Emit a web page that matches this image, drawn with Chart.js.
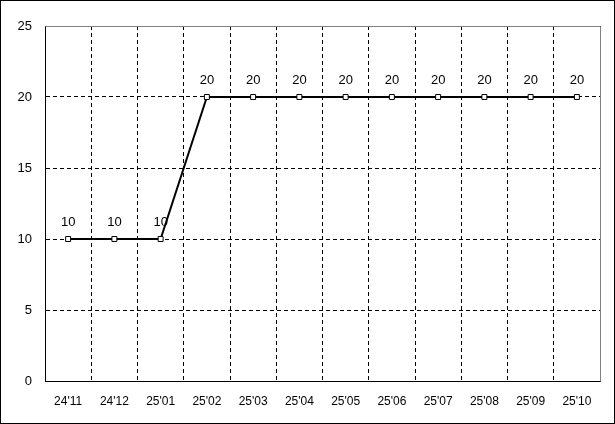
<!DOCTYPE html>
<html>
<head>
<meta charset="utf-8">
<script src="https://cdn.jsdelivr.net/npm/chart.js@4/dist/chart.umd.min.js"></script>
<style>
    body { margin: 0; background: #fff; }
    canvas { display: block; }
</style>
</head>
<body>
<canvas id="lineChart" width="615" height="424"></canvas>
<script>
const months = ["24'11", "24'12", "25'01", "25'02", "25'03", "25'04", "25'05", "25'06", "25'07", "25'08", "25'09", "25'10"];
const counts = [10, 10, 10, 20, 20, 20, 20, 20, 20, 20, 20, 20];
const yTicks = [0, 5, 10, 15, 20, 25];

const fontFamily = "'Liberation Sans', Arial, sans-serif";

// white background, outer frame, gray top/right border of plot
const framePlugin = {
    id: 'frame',
    beforeDraw(chart) {
        const ctx = chart.ctx;
        ctx.save();
        ctx.fillStyle = '#ffffff';
        ctx.fillRect(0, 0, chart.width, chart.height);
        ctx.restore();
    },
    afterDatasetsDraw(chart) {
        const ctx = chart.ctx;
        const area = chart.chartArea;
        ctx.save();
        ctx.strokeStyle = '#808080';
        ctx.lineWidth = 1;
        ctx.beginPath();
        ctx.moveTo(Math.round(area.left) + 0.5, Math.round(area.top) + 0.5);
        ctx.lineTo(Math.round(area.right) + 0.5, Math.round(area.top) + 0.5);
        ctx.lineTo(Math.round(area.right) + 0.5, Math.round(area.bottom) + 0.5);
        ctx.stroke();
        ctx.strokeStyle = '#000000';
        ctx.strokeRect(0.5, 0.5, chart.width - 1, chart.height - 1);

        // value labels above the points
        const meta = chart.getDatasetMeta(0);
        ctx.fillStyle = '#000';
        ctx.font = '13px ' + fontFamily;
        ctx.textAlign = 'center';
        ctx.textBaseline = 'middle';
        meta.data.forEach((pt, i) => {
            ctx.fillText(String(counts[i]), pt.x, pt.y - 17);
        });
        ctx.restore();
    }
};

new Chart(document.getElementById('lineChart'), {
    type: 'line',
    data: {
        labels: months,
        datasets: [{
            data: counts,
            borderColor: '#000000',
            borderWidth: 2,
            tension: 0,
            pointStyle: 'rect',
            pointRadius: 3.5,
            pointBorderWidth: 1,
            pointBorderColor: '#000000',
            pointBackgroundColor: '#ffffff',
        }]
    },
    options: {
        responsive: false,
        animation: false,
        layout: { padding: { top: 26, right: 15, left: 0, bottom: 0 } },
        plugins: {
            legend: { display: false },
            tooltip: { enabled: false }
        },
        scales: {
            x: {
                offset: true,
                grid: {
                    offset: true,
                    color: '#000000',
                    drawTicks: false,
                },
                border: { display: true, color: '#000000', width: 1, dash: [4, 3] },
                ticks: {
                    color: '#000000',
                    padding: 13,
                    maxRotation: 0,
                    autoSkip: false,
                    font: { size: 12, family: fontFamily }
                },
                afterFit(scale) { scale.height = 43; }
            },
            y: {
                min: 0,
                max: 25,
                afterBuildTicks(scale) { scale.ticks = yTicks.map(v => ({ value: v })); },
                grid: {
                    color: '#000000',
                    drawTicks: false,
                },
                border: { display: true, color: '#000000', width: 1, dash: [4, 3] },
                ticks: {
                    color: '#000000',
                    padding: 13,
                    font: { size: 13, family: fontFamily }
                },
                afterFit(scale) { scale.width = 45; }
            }
        }
    },
    plugins: [framePlugin]
});
</script>
</body>
</html>
